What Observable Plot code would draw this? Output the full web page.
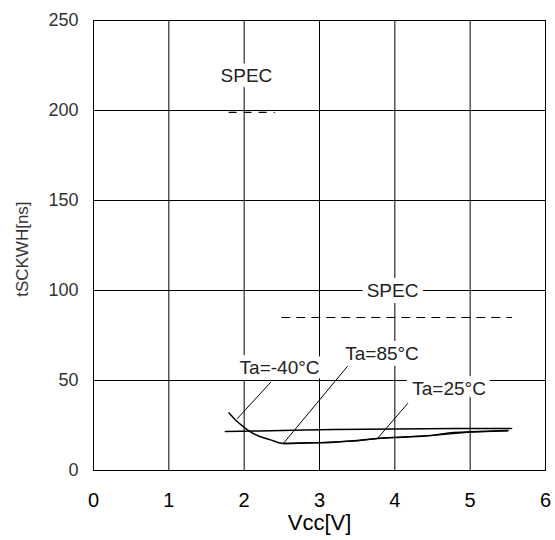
<!DOCTYPE html>
<html><head><meta charset="utf-8">
<script src="https://cdn.jsdelivr.net/npm/d3@7"></script>
<script src="https://cdn.jsdelivr.net/npm/@observablehq/plot@0.6"></script>
<style>body{margin:0;background:#fff;font-family:"Liberation Sans",Arial,sans-serif;}</style>
</head><body><div id="chart"></div>
<script>
const xTicks = [0,1,2,3,4,5,6];
const yTicks = [0,50,100,150,200,250];
// curves [Vcc, ns]
const curveM40 = [[1.8,32],[1.9,27.5],[2.0,24],[2.1,21],[2.2,19],[2.35,17],[2.52,15],[2.8,15.3],[3.15,15.6],[3.5,16.6],[3.77,17.8],[4.1,18.5],[4.48,19.4],[4.78,21.1],[5.1,21.7],[5.5,22.2]];
const curve85 = [[1.75,21.7],[2.2,22],[2.8,22.5],[3.2,22.8],[4.0,23.1],[4.8,23.3],[5.55,23.3]];
const curve25 = [[2.52,15],[3.0,15.5],[3.5,16.5],[3.77,17.8],[4.5,19.5],[5.0,21.3],[5.5,22]];
const spec1 = [[1.8,199],[2.4,199]];
const spec2 = [[2.5,85],[5.55,85]];
const leaders = [
  {name:"-40", pts:[[2.35,48.9],[1.91,28.9]]},
  {name:"85", pts:[[3.37,57.8],[2.52,15]]},
  {name:"25", pts:[[4.17,37.2],[3.77,17.8]]}
];
const labels = [
  {x:2.47, y:57.2, t:"Ta=-40°C"},
  {x:3.83, y:65, t:"Ta=85°C"},
  {x:4.72, y:45.5, t:"Ta=25°C"},
  {x:2.03, y:219, t:"SPEC"},
  {x:3.97, y:100, t:"SPEC"}
];
const axisTitles = [
  {x:3, y:-29, t:"Vcc[V]", r:0, s:22},
];
const toObj = a => a.map(([x,y])=>({x,y}));

const chart = Plot.plot({
  width:555, height:540,
  marginLeft:93, marginRight:10, marginTop:20, marginBottom:70,
  style:{fontFamily:"Liberation Sans, Arial, sans-serif", background:"#fff"},
  x:{domain:[0,6]},
  y:{domain:[0,250]},
  marks:[
    Plot.gridX(xTicks.slice(1,-1), {stroke:"#000", strokeOpacity:1, strokeWidth:1}),
    Plot.gridY(yTicks.slice(1,-1), {stroke:"#000", strokeOpacity:1, strokeWidth:1}),
    Plot.frame({stroke:"#000", strokeWidth:1}),
    Plot.line(toObj(spec1), {x:"x", y:"y", stroke:"#000", strokeWidth:1.2, strokeDasharray:"7,8"}),
    Plot.line(toObj(spec2), {x:"x", y:"y", stroke:"#000", strokeWidth:1.2, strokeDasharray:"8,7"}),
    Plot.line(toObj(curve85), {x:"x", y:"y", stroke:"#000", strokeWidth:1.5}),
    Plot.line(toObj(curve25), {x:"x", y:"y", stroke:"#000", strokeWidth:1.3}),
    Plot.line(toObj(curveM40), {x:"x", y:"y", stroke:"#000", strokeWidth:1.5, curve:"monotone-x"}),
    ...leaders.map(l => Plot.line(toObj(l.pts), {x:"x", y:"y", stroke:"#000", strokeWidth:1})),
    Plot.text(labels, {x:"x", y:"y", text:"t", fontSize:19, fill:"#222", stroke:"#fff", strokeWidth:12, strokeLinejoin:"round", paintOrder:"stroke"}),
    Plot.axisX(xTicks, {tickSize:0, tickPadding:22, fontSize:20, fill:"#000", label:null}),
    Plot.axisY(yTicks, {tickSize:0, tickPadding:15, fontSize:18, fill:"#333", label:null}),
    Plot.text(axisTitles, {x:"x", y:"y", text:"t", fontSize:22, fill:"#000"}),
    Plot.text(["tSCKWH[ns]"], {x:-0.94, y:123, rotate:-90, fontSize:17, fill:"#333"})
  ]
});
document.getElementById("chart").appendChild(chart);
</script></body></html>
